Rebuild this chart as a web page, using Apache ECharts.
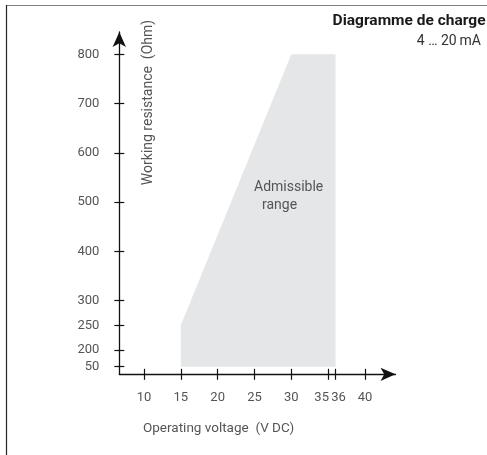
<!DOCTYPE html>
<html>
<head>
<meta charset="utf-8">
<script src="https://cdn.jsdelivr.net/npm/echarts@6/dist/echarts.min.js"></script>
<style>
html,body{margin:0;padding:0;background:#fff;}
#c{width:487px;height:455px;}
</style>
</head>
<body>
<div id="c"></div>
<script>
// Data
const xTicks = [10, 15, 20, 25, 30, 35, 36, 40];
const yTicks = [50, 200, 250, 300, 400, 500, 600, 700, 800];
const regionX = [15, 15, 30, 36, 36];
const regionY = [50, 250, 800, 800, 50];

// broken scale: below 200 the axis is compressed
function yMap(v) { return v < 200 ? 200 - (200 - v) * (34 / 150) : v; }
const yTickPos = yTicks.map(yMap);
function yLabel(v) {
  let best = 0, d = Infinity;
  yTickPos.forEach((p, i) => { if (Math.abs(p - v) < d) { d = Math.abs(p - v); best = i; } });
  return String(yTicks[best]);
}
function xLabel(v) {
  if (Math.abs(v - 35) < 1e-6) return '{l|35}';
  if (Math.abs(v - 36) < 1e-6) return '{r|36}';
  return String(v);
}

const FONT = 'Roboto';
const LBL = '#555';
const AX = '#111';

const chart = echarts.init(document.getElementById('c'), null, {renderer: 'canvas'});

const baseX = {
  type: 'value', min: 6.65, max: 44.14, position: 'bottom',
  splitLine: {show: false},
};
const baseY = {
  type: 'value', min: 150.6, max: 845.3, position: 'left',
  splitLine: {show: false},
};
const lblFont = {color: LBL, fontFamily: FONT, fontSize: 13};

chart.setOption({
  animation: false,
  backgroundColor: '#fff',
  grid: {left: 119.3, right: 91.5, top: 32, bottom: 80.7, containLabel: false},
  xAxis: [
    Object.assign({}, baseX, {
      axisLine: {show: true, symbol: ['none', 'arrow'], symbolSize: [10, 15], lineStyle: {color: AX, width: 1.3}},
      axisTick: {show: true, inside: false, length: 5.5, customValues: xTicks, lineStyle: {color: AX, width: 1.2}},
      axisLabel: Object.assign({show: true, customValues: xTicks, margin: 17, formatter: xLabel,
        rich: {
          l: Object.assign({padding: [0, 13, 0, 0]}, lblFont),
          r: Object.assign({padding: [0, 0, 0, 6]}, lblFont)
        }}, lblFont)
    }),
    Object.assign({}, baseX, {
      axisLine: {show: false},
      axisTick: {show: true, inside: true, length: 5.5, customValues: xTicks, lineStyle: {color: AX, width: 1.2}},
      axisLabel: {show: false}
    })
  ],
  yAxis: [
    Object.assign({}, baseY, {
      axisLine: {show: true, symbol: ['none', 'arrow'], symbolSize: [10, 15], lineStyle: {color: AX, width: 1.3}},
      axisTick: {show: true, inside: false, length: 5, customValues: yTickPos, lineStyle: {color: AX, width: 1.2}},
      axisLabel: Object.assign({show: true, customValues: yTickPos, margin: 20, formatter: yLabel}, lblFont)
    }),
    Object.assign({}, baseY, {
      axisLine: {show: false},
      axisTick: {show: true, inside: true, length: 5, customValues: yTickPos, lineStyle: {color: AX, width: 1.2}},
      axisLabel: {show: false}
    })
  ],
  series: [{
    type: 'custom',
    xAxisIndex: 0, yAxisIndex: 0,
    data: [[regionX[0], yMap(regionY[0])]],
    z: 1,
    renderItem: function (params, api) {
      const pts = regionX.map((x, i) => api.coord([x, yMap(regionY[i])]));
      return {type: 'polygon', shape: {points: pts}, style: {fill: '#e5e6e8'}};
    }
  }],
  graphic: {
    elements: [
      {type: 'line', z: 100, shape: {x1: 6, y1: 5.5, x2: 487, y2: 5.5}, style: {stroke: '#808080', lineWidth: 1.2}, silent: true},
      {type: 'line', z: 100, shape: {x1: 6.5, y1: 5, x2: 6.5, y2: 455}, style: {stroke: '#222', lineWidth: 1.2}, silent: true},
      {type: 'text', z: 100, x: 485.5, y: 21, style: {text: 'Diagramme de charge', align: 'right', verticalAlign: 'middle',
        fill: '#1a1a1a', font: 'bold 15.5px ' + FONT}},
      {type: 'text', z: 100, x: 481, y: 41, style: {text: '4 … 20\u2009mA', align: 'right', verticalAlign: 'middle',
        fill: '#333', font: '14px ' + FONT}},
      {type: 'text', z: 100, x: 148, y: 102.5, rotation: Math.PI / 2, style: {text: 'Working resistance  (Ohm)', align: 'center',
        verticalAlign: 'middle', fill: LBL, font: '14px ' + FONT}},
      {type: 'text', z: 100, x: 143, y: 429, style: {text: 'Operating voltage  (V DC)', align: 'left', verticalAlign: 'middle',
        fill: LBL, font: '13.5px ' + FONT}},
      {type: 'text', z: 100, x: 254, y: 187, style: {text: 'Admissible', align: 'left', verticalAlign: 'middle',
        fill: LBL, font: '14px ' + FONT}},
      {type: 'text', z: 100, x: 262, y: 205, style: {text: 'range', align: 'left', verticalAlign: 'middle',
        fill: LBL, font: '14px ' + FONT}}
    ]
  }
});
</script>
</body>
</html>
